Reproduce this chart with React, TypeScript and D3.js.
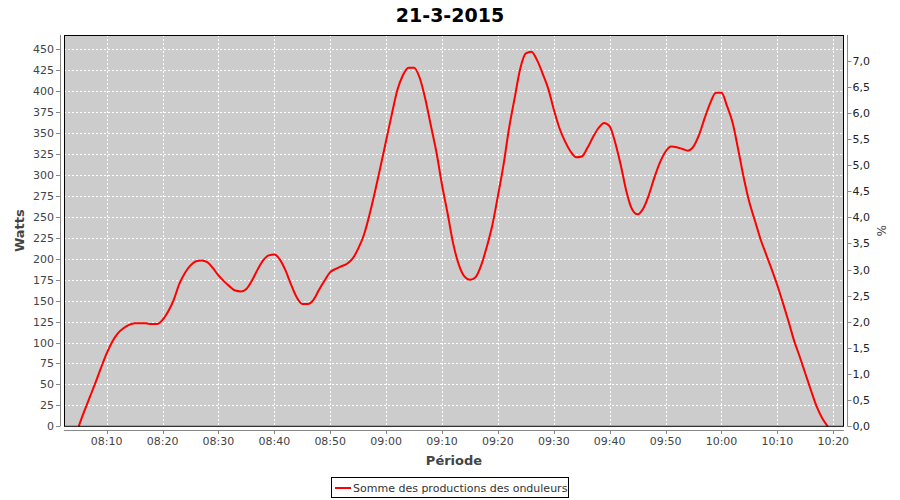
import React from 'react';
import * as d3 from 'd3';

// Production (Watts), one reading per minute
const times = [
  '08:05', '08:06', '08:07', '08:08', '08:09', '08:10', '08:11', '08:12', '08:13', '08:14',
  '08:15', '08:16', '08:17', '08:18', '08:19', '08:20', '08:21', '08:22', '08:23', '08:24',
  '08:25', '08:26', '08:27', '08:28', '08:29', '08:30', '08:31', '08:32', '08:33', '08:34',
  '08:35', '08:36', '08:37', '08:38', '08:39', '08:40', '08:41', '08:42', '08:43', '08:44',
  '08:45', '08:46', '08:47', '08:48', '08:49', '08:50', '08:51', '08:52', '08:53', '08:54',
  '08:55', '08:56', '08:57', '08:58', '08:59', '09:00', '09:01', '09:02', '09:03', '09:04',
  '09:05', '09:06', '09:07', '09:08', '09:09', '09:10', '09:11', '09:12', '09:13', '09:14',
  '09:15', '09:16', '09:17', '09:18', '09:19', '09:20', '09:21', '09:22', '09:23', '09:24',
  '09:25', '09:26', '09:27', '09:28', '09:29', '09:30', '09:31', '09:32', '09:33', '09:34',
  '09:35', '09:36', '09:37', '09:38', '09:39', '09:40', '09:41', '09:42', '09:43', '09:44',
  '09:45', '09:46', '09:47', '09:48', '09:49', '09:50', '09:51', '09:52', '09:53', '09:54',
  '09:55', '09:56', '09:57', '09:58', '09:59', '10:00', '10:01', '10:02', '10:03', '10:04',
  '10:05', '10:06', '10:07', '10:08', '10:09', '10:10', '10:11', '10:12', '10:13', '10:14',
  '10:15', '10:16', '10:17', '10:18', '10:19',
];

const watts = [
  0, 18, 35, 52, 70, 87, 101, 111, 117, 121,
  123, 123, 123, 122, 122, 127, 137, 151, 170, 183,
  192, 197, 198, 196, 189, 180, 173, 167, 162, 161,
  164, 174, 187, 198, 204, 205, 199, 186, 169, 154,
  146, 146, 151, 163, 174, 184, 188, 191, 194, 200,
  212, 228, 252, 280, 310, 341, 372, 401, 419, 428,
  428, 416, 391, 359, 327, 288, 254, 218, 193, 179,
  175, 178, 192, 214, 240, 275, 312, 356, 392, 427,
  445, 447, 437, 421, 403, 378, 356, 340, 328, 321,
  322, 332, 345, 356, 362, 358, 338, 311, 280, 259,
  253, 260, 276, 297, 315, 328, 334, 333, 331, 329,
  334, 348, 368, 386, 398, 398, 382, 362, 330, 296,
  267, 245, 223, 205, 187, 168, 147, 125, 102, 83,
  63, 43, 24, 10, 0,
];

const wattTicks = d3.range(0, 451, 25);
const percentTicks = d3.range(0, 7.01, 0.5);

const seriesName = 'Somme des productions des onduleurs';
const title = '21-3-2015';

const day = '2015-03-21';
const parseTime = (s: string) => new Date(`${day}T${s}`);

const W = 900;
const H = 500;
const plot = { left: 64, right: 844, top: 35, bottom: 426.3 };
const font = '"DejaVu Sans", sans-serif';

export default function App() {
  const data = times.map((t, i) => ({ date: parseTime(t), value: watts[i] }));

  const x = d3.scaleTime()
    .domain([parseTime('08:02:22'), parseTime('10:21:55')])
    .range([plot.left, plot.right]);
  const y = d3.scaleLinear().domain([0, 467]).range([plot.bottom, plot.top]);
  const yPct = d3.scaleLinear().domain([0, 7.49]).range([plot.bottom, plot.top]);

  const xTicks = x.ticks(d3.timeMinute.every(10)!);
  const fmtTime = d3.timeFormat('%H:%M');
  const fmtPct = (v: number) => d3.format('.1f')(v).replace('.', ',');

  const line = d3.line<{ date: Date; value: number }>()
    .x(d => x(d.date))
    .y(d => y(d.value))
    .curve(d3.curveMonotoneX);

  const axisColor = '#888';
  const labelColor = '#444';
  const xAxisY = 430;
  const yAxisX = 60;
  const yRightX = 847.5;

  return (
    <>
      <style>{`body{margin:0}`}</style>
      <svg width={W} height={H} style={{ display: 'block', fontFamily: font }}>
        <rect x={0} y={0} width={W} height={H} fill="#fff" />
        <text x={450} y={22} textAnchor="middle" fontSize={19} fontWeight="bold" fill="#000">
          {title}
        </text>

        {/* plot background */}
        <rect x={plot.left} y={plot.top} width={plot.right - plot.left} height={plot.bottom - plot.top} fill="#cccccc" />

        {/* grid */}
        {wattTicks.map(t => (
          <line key={'gy' + t} x1={plot.left} x2={plot.right} y1={Math.round(y(t)) + 0.5} y2={Math.round(y(t)) + 0.5}
            stroke="#fff" strokeDasharray="2,2" />
        ))}
        {xTicks.map(t => (
          <line key={'gx' + t.getTime()} x1={Math.round(x(t)) + 0.5} x2={Math.round(x(t)) + 0.5} y1={plot.top} y2={plot.bottom}
            stroke="#fff" strokeDasharray="2,2" />
        ))}

        {/* series */}
        <path d={line(data) ?? ''} fill="none" stroke="#ff0000" strokeWidth={2} strokeLinejoin="round" />

        {/* plot outline */}
        <rect x={plot.left + 0.5} y={plot.top + 0.5} width={plot.right - plot.left - 1} height={plot.bottom - plot.top - 0.5}
          fill="none" stroke="#000" strokeWidth={1} />

        {/* left axis */}
        <line x1={yAxisX + 0.5} x2={yAxisX + 0.5} y1={plot.top} y2={plot.bottom} stroke={axisColor} />
        {wattTicks.map(t => (
          <g key={'ly' + t}>
            <line x1={yAxisX - 4} x2={yAxisX} y1={Math.round(y(t)) + 0.5} y2={Math.round(y(t)) + 0.5} stroke={axisColor} />
            <text x={yAxisX - 6} y={y(t) + 4} textAnchor="end" fontSize={11} fill={labelColor}>{t}</text>
          </g>
        ))}
        <text transform={`translate(24,${(plot.top + plot.bottom) / 2}) rotate(-90)`} textAnchor="middle"
          fontSize={13} fontWeight="bold" fill={labelColor}>Watts</text>

        {/* right axis */}
        <line x1={yRightX} x2={yRightX} y1={plot.top} y2={plot.bottom} stroke={axisColor} />
        {percentTicks.map(t => (
          <g key={'ry' + t}>
            <line x1={yRightX} x2={yRightX + 4} y1={Math.round(yPct(t)) + 0.5} y2={Math.round(yPct(t)) + 0.5} stroke={axisColor} />
            <text x={yRightX + 5} y={yPct(t) + 4} textAnchor="start" fontSize={11} fill="#222">{fmtPct(t)}</text>
          </g>
        ))}
        <text transform={`translate(877,${(plot.top + plot.bottom) / 2}) rotate(90)`} textAnchor="middle"
          fontSize={12} fill={labelColor}>%</text>

        {/* bottom axis */}
        <line x1={plot.left} x2={plot.right} y1={xAxisY + 0.5} y2={xAxisY + 0.5} stroke={axisColor} />
        {xTicks.map(t => (
          <g key={'lx' + t.getTime()}>
            <line x1={Math.round(x(t)) + 0.5} x2={Math.round(x(t)) + 0.5} y1={xAxisY} y2={xAxisY + 4} stroke={axisColor} />
            <text x={x(t)} y={xAxisY + 15} textAnchor="middle" fontSize={11} fill={labelColor}>{fmtTime(t)}</text>
          </g>
        ))}
        <text x={(plot.left + plot.right) / 2} y={465} textAnchor="middle" fontSize={13} fontWeight="bold" fill={labelColor}>
          Période
        </text>

        {/* legend */}
        <rect x={331.5} y={477.5} width={237} height={20} fill="#fff" stroke="#000" />
        <line x1={335} x2={351} y1={488} y2={488} stroke="#ff0000" strokeWidth={2} />
        <text x={353} y={492} fontSize={11} fill="#333">{seriesName}</text>
      </svg>
    </>
  );
}
